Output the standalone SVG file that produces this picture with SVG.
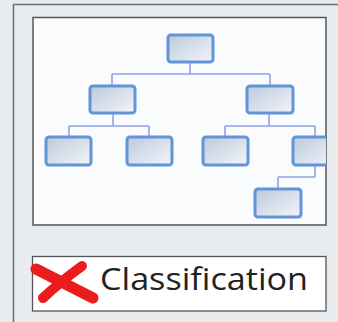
<svg xmlns="http://www.w3.org/2000/svg" width="338" height="322" viewBox="0 0 338 322">
<defs>
<linearGradient id="ng" x1="0" y1="0" x2="1" y2="1">
<stop offset="0" stop-color="#bccadc"/>
<stop offset="1" stop-color="#f3f5f9"/>
</linearGradient>
<clipPath id="clipBox"><rect x="33" y="18" width="293" height="207"/></clipPath>
</defs>
<style>
.node rect{fill:url(#ng);stroke:#6394d8;stroke-width:3}
.conn{fill:none;stroke:#8fa3e6;stroke-width:1.6}
.frame{fill:none;stroke:#6f6f6f;stroke-width:1.5}
</style>
<rect x="0" y="0" width="338" height="322" fill="#e9ecef"/>
<path class="frame" d="M13.5,322 V4.5 H338"/>
<rect x="33" y="17.5" width="293" height="207.5" fill="#f9fbfd" stroke="#555" stroke-width="1.5"/>
<g clip-path="url(#clipBox)">
<g id="connectors">
<path class="conn" d="M190,62 V74 M112,74 H270 M112,74 V86 M270,74 V86"/>
<path class="conn" d="M113,113 V126 M69,126 H149 M69,126 V137 M149,126 V137"/>
<path class="conn" d="M269,113 V126 M225,126 H315 M225,126 V137 M315,126 V137"/>
<path class="conn" d="M315,166 V177 M278,177 H315 M278,177 V189"/>
</g>
<g id="root" class="node"><rect x="168" y="35" width="45" height="27" rx="3"/></g>
<g id="left" class="node"><rect x="90" y="86" width="45" height="27" rx="3"/></g>
<g id="right" class="node"><rect x="247" y="86" width="46" height="27" rx="3"/></g>
<g id="leftLeft" class="node"><rect x="46" y="137" width="45" height="28" rx="3"/></g>
<g id="leftRight" class="node"><rect x="127" y="137" width="45" height="28" rx="3"/></g>
<g id="rightLeft" class="node"><rect x="203" y="137" width="45" height="28" rx="3"/></g>
<g id="rightRight" class="node"><rect x="293" y="137" width="46" height="28" rx="3"/></g>
<g id="rightRightLeft" class="node"><rect x="255" y="189" width="46" height="28" rx="3"/></g>
</g>
<g id="label">
<rect x="32.5" y="256.5" width="293.5" height="54.5" fill="#ffffff" stroke="#555" stroke-width="1.3"/>
<path d="M36,269 L93,298" stroke="#ea1c1c" stroke-width="11" stroke-linecap="round" fill="none"/>
<path d="M43,298 Q60,282 82,266" stroke="#ea1c1c" stroke-width="10" stroke-linecap="round" fill="none"/>
<text x="100" y="290" font-family="'Open Sans','Liberation Sans',sans-serif" font-size="31" fill="#222" textLength="208" lengthAdjust="spacingAndGlyphs">Classification</text>
</g>
</svg>
